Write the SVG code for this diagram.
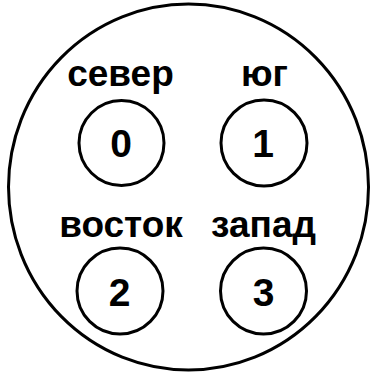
<svg xmlns="http://www.w3.org/2000/svg" width="370" height="373" viewBox="0 0 370 373">
<style>
.c{fill:none;stroke:#000;stroke-width:3}
.t{font-family:"Liberation Sans",Arial,sans-serif;font-size:37px;font-weight:bold;text-anchor:middle;fill:#000}
.d{font-family:"Liberation Sans",Arial,sans-serif;font-size:39px;font-weight:bold;text-anchor:middle;fill:#000}
</style>
<rect width="370" height="373" fill="#fff"/>
<g id="outer"><ellipse class="c" cx="188.5" cy="187" rx="180" ry="183"/></g>
<g id="node0"><circle class="c" cx="121.5" cy="143" r="42.5"/><text class="d" x="121" y="157">0</text><text class="t" x="120.5" y="86">север</text></g>
<g id="node1"><circle class="c" cx="264" cy="143" r="43"/><text class="d" x="263" y="157">1</text><text class="t" x="264.5" y="86">юг</text></g>
<g id="node2"><circle class="c" cx="120" cy="291" r="43"/><text class="d" x="119.5" y="306">2</text><text class="t" x="121" y="237">восток</text></g>
<g id="node3"><circle class="c" cx="263.5" cy="291" r="43"/><text class="d" x="263.5" y="306">3</text><text class="t" x="263.5" y="237">запад</text></g>
<g id="connectors"></g>
</svg>
